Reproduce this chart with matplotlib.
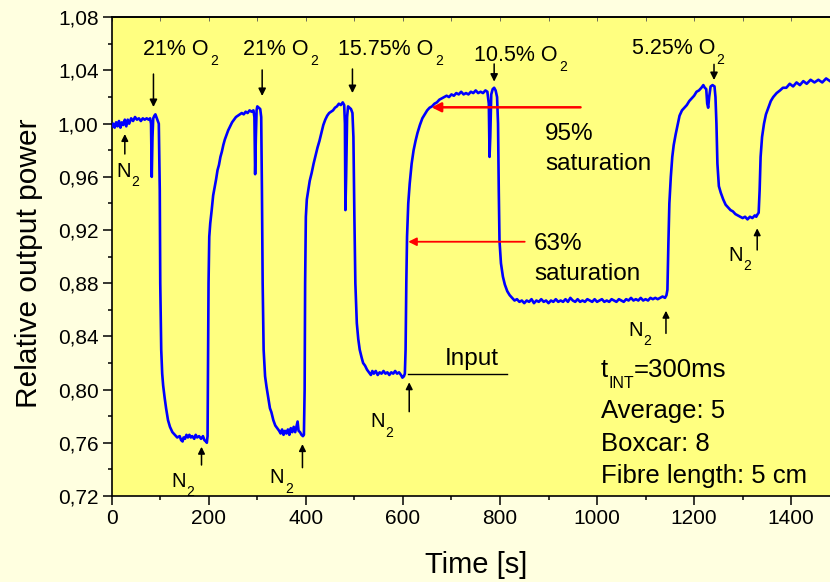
import matplotlib
matplotlib.use("Agg")
import matplotlib.pyplot as plt
from matplotlib.ticker import MultipleLocator, FuncFormatter

plt.rcParams['font.family'] = ['Liberation Sans', 'DejaVu Sans']

# ---------------- data ----------------
time_s = [0, 3, 6, 9, 12, 15, 18, 21, 24, 27, 30, 33, 36, 40, 44, 48, 52, 56, 60, 64, 68, 72, 76, 79,
          81, 82.5, 84, 85.5, 88, 90, 92, 95, 97, 99, 100, 102, 104, 106, 109, 112, 116, 120, 125, 130,
          135, 140, 143, 146, 148, 151, 154, 157, 160, 163, 166, 170, 173, 176, 180, 184, 188, 191, 194,
          196, 197.5, 198.5, 199.5, 201, 203, 206, 209, 212, 215, 218, 221, 224, 227, 230, 233, 236, 240,
          244, 248, 252, 256, 260, 264, 268, 272, 276, 280, 284, 288, 292, 294, 295.5, 297, 298.5, 300,
          303, 306, 308, 309.5, 311, 313, 316, 319, 322, 326, 329, 333, 337, 341, 345, 348, 351, 354,
          357, 360, 363, 366, 369, 372, 375, 378, 381, 383, 385, 388, 391, 394, 396, 397.5, 398.5, 400,
          402, 405, 408, 412, 416, 420, 424, 428, 432, 436, 440, 444, 448, 452, 456, 460, 464, 468, 472,
          476, 479, 480.5, 481.5, 483, 485, 487, 490, 493, 496, 498, 500, 502, 505, 508, 511, 515, 518,
          522, 526, 530, 534, 537, 540, 544, 548, 552, 556, 560, 564, 568, 572, 576, 580, 584, 588, 592,
          596, 599, 602, 604, 605.5, 607, 608.5, 611, 614, 618, 622, 626, 630, 635, 640, 645, 650, 655,
          660, 665, 670, 675, 680, 685, 690, 695, 700, 705, 710, 715, 720, 725, 730, 735, 740, 745, 750,
          755, 760, 765, 770, 774, 777, 778.5, 780, 782, 785, 788, 791, 794, 796, 797.5, 799, 802, 806,
          810, 815, 820, 825, 830, 835, 840, 845, 850, 855, 860, 865, 870, 875, 880, 885, 890, 895, 900,
          905, 910, 915, 920, 925, 930, 935, 940, 945, 950, 955, 960, 965, 970, 975, 980, 985, 990, 995,
          1000, 1005, 1010, 1015, 1020, 1025, 1030, 1035, 1040, 1045, 1050, 1055, 1060, 1065, 1070, 1075,
          1080, 1085, 1090, 1095, 1100, 1105, 1110, 1115, 1120, 1125, 1130, 1135, 1140, 1143, 1145, 1147,
          1149, 1152, 1155, 1158, 1162, 1166, 1170, 1175, 1180, 1185, 1190, 1195, 1200, 1205, 1210, 1215,
          1219, 1222, 1225, 1227, 1229, 1231, 1234, 1238, 1242, 1244, 1246, 1248, 1251, 1255, 1260, 1265,
          1270, 1275, 1280, 1285, 1290, 1295, 1300, 1305, 1310, 1315, 1320, 1325, 1328, 1331, 1333, 1335,
          1337, 1340, 1344, 1348, 1353, 1358, 1363, 1370, 1377, 1383, 1390, 1397, 1404, 1411, 1418, 1425,
          1432, 1440, 1448, 1456, 1464, 1472, 1480]
power = [0.998, 1.000, 0.997, 1.001, 0.998, 1.002, 0.997, 1.001, 0.999, 1.003, 0.998, 1.003, 1.000, 1.004,
         1.002, 1.005, 1.003, 1.004, 1.002, 1.004, 1.003, 1.004, 1.003, 1.004,
         1.000, 0.960, 0.990, 1.004, 1.006, 1.007, 1.005, 1.002, 1.000, 0.950, 0.880, 0.830, 0.812, 0.803,
         0.794, 0.786, 0.777, 0.772, 0.768, 0.766,
         0.764, 0.765, 0.762, 0.761, 0.764, 0.763, 0.766, 0.764, 0.766, 0.764, 0.765, 0.763, 0.766, 0.764,
         0.765, 0.763, 0.765, 0.762, 0.761,
         0.760, 0.765, 0.820, 0.880, 0.915, 0.925, 0.935, 0.946, 0.952, 0.958, 0.965, 0.969, 0.975, 0.979,
         0.984, 0.988, 0.991, 0.995,
         0.998, 1.001, 1.003, 1.005, 1.006, 1.007, 1.008, 1.007, 1.009, 1.008, 1.010, 1.009, 1.010, 1.005,
         0.962, 0.990, 1.010, 1.013,
         1.012, 1.011, 1.005, 0.950, 0.880, 0.830, 0.810, 0.802, 0.795, 0.786, 0.783, 0.777, 0.773, 0.771,
         0.769, 0.767, 0.770, 0.766,
         0.769, 0.767, 0.770, 0.766, 0.771, 0.768, 0.772, 0.768, 0.773, 0.776, 0.769, 0.768, 0.766, 0.765,
         0.766, 0.800, 0.880, 0.930,
         0.943, 0.950, 0.957, 0.963, 0.970, 0.976, 0.982, 0.987, 0.993, 0.999, 1.003, 1.006, 1.008, 1.009,
         1.010, 1.012, 1.013, 1.015, 1.014,
         1.016, 1.014, 1.000, 0.935, 0.960, 1.005, 1.013, 1.012, 1.011, 1.008, 0.990, 0.930, 0.880, 0.850,
         0.838, 0.830, 0.824, 0.820,
         0.818, 0.815, 0.813, 0.811, 0.814, 0.812, 0.814, 0.811, 0.813, 0.812, 0.814, 0.812, 0.813, 0.811,
         0.813, 0.812, 0.814, 0.812, 0.813,
         0.811, 0.809, 0.810, 0.812, 0.830, 0.880, 0.915, 0.940, 0.955, 0.970, 0.980, 0.987, 0.993, 0.999,
         1.004, 1.007, 1.010, 1.012,
         1.013, 1.015, 1.016, 1.018, 1.019, 1.020, 1.021, 1.020, 1.022, 1.021, 1.023, 1.022, 1.024, 1.022,
         1.023, 1.022, 1.024, 1.023, 1.025,
         1.023, 1.024, 1.023, 1.025, 1.024, 1.015, 0.975, 0.990, 1.022, 1.026, 1.027, 1.025, 1.020, 1.000,
         0.950, 0.912, 0.895, 0.885,
         0.879, 0.874, 0.871, 0.869, 0.867, 0.868, 0.866, 0.867, 0.865, 0.867, 0.866, 0.868, 0.865, 0.867,
         0.866, 0.868, 0.866, 0.867, 0.865,
         0.867, 0.866, 0.868, 0.866, 0.867, 0.866, 0.868, 0.866, 0.869, 0.867, 0.866, 0.868, 0.866, 0.867,
         0.866, 0.868, 0.867, 0.866, 0.868,
         0.866, 0.867, 0.868, 0.866, 0.867, 0.866, 0.868, 0.867, 0.866, 0.868, 0.867, 0.866, 0.868, 0.867,
         0.869, 0.867,
         0.868, 0.867, 0.869, 0.867, 0.868, 0.867, 0.869, 0.868, 0.869, 0.868, 0.869, 0.870, 0.869, 0.871,
         0.875, 0.910,
         0.940, 0.960, 0.975, 0.984, 0.992, 0.999, 1.006, 1.010, 1.012, 1.014, 1.017, 1.019, 1.021, 1.024,
         1.025, 1.027,
         1.029, 1.027, 1.026, 1.015, 1.012, 1.020, 1.028, 1.029, 1.028, 1.020, 1.000, 0.970, 0.953, 0.948,
         0.943, 0.939,
         0.937, 0.935, 0.934, 0.932, 0.931, 0.930, 0.929, 0.930, 0.928, 0.930, 0.929, 0.931, 0.930, 0.932,
         0.933, 0.950,
         0.975, 0.990, 1.000, 1.007, 1.012, 1.017, 1.020, 1.023, 1.025, 1.027, 1.027, 1.030, 1.028, 1.031,
         1.029, 1.032,
         1.030, 1.033, 1.031, 1.033, 1.031, 1.034, 1.032]

o2_labels = ['21% O', '21% O', '15.75% O', '10.5% O', '5.25% O']
o2_label_pos = [(64, 1.0516), (270, 1.0516), (467, 1.0516), (746, 1.0471), (1071, 1.0522)]
o2_arrow_t = [86, 310, 496, 788, 1241]
o2_arrow_v = [(1.0373, 1.0125), (1.0404, 1.0208), (1.0411, 1.0230), (1.0449, 1.0316), (1.0446, 1.0328)]

n2_label_pos = [(9, 0.9601), (122, 0.7270), (325, 0.7296), (532, 0.7717), (1064, 0.8403), (1270, 0.8967)]
n2_arrow_t = [27, 185, 393, 613, 1142, 1330]
n2_arrow_v = [(0.9772, 0.9922), (0.7433, 0.7570), (0.7413, 0.7590), (0.7834, 0.8055),
              (0.8423, 0.8593), (0.9050, 0.9213)]

info_lines = ['Average: 5', 'Boxcar: 8', 'Fibre length: 5 cm']
info_baselines = [0.7784, 0.7540, 0.7296]
tint_baseline = 0.8093

# ---------------- figure ----------------
fig = plt.figure(figsize=(8.30, 5.82), dpi=100, facecolor='#FFFFE0')
ax = fig.add_axes([0.1346, 0.1478, 0.8771, 0.8225])
ax.set_facecolor('#FFFF80')

ax.plot(time_s, power, color='#0000FF', lw=1.9, zorder=3)

ax.set_xlim(0, 1500)
ax.set_ylim(0.72, 1.08)
ax.xaxis.set_major_locator(MultipleLocator(200))
ax.xaxis.set_minor_locator(MultipleLocator(100))
ax.yaxis.set_major_locator(MultipleLocator(0.04))
ax.yaxis.set_minor_locator(MultipleLocator(0.02))
ax.yaxis.set_major_formatter(FuncFormatter(lambda v, p: f"{v:.2f}".replace('.', ',')))
ax.tick_params(which='major', direction='out', length=6.5, width=1.1, labelsize=15, pad=3)
ax.tick_params(which='minor', direction='out', length=3, width=1.1)
for s in ['left', 'bottom', 'top']:
    ax.spines[s].set_linewidth(1.2)
ax.spines['right'].set_visible(False)

top = ax.secondary_xaxis('top')
top.xaxis.set_major_locator(MultipleLocator(100))
top.tick_params(which='major', direction='in', length=3, width=0.6, labeltop=False, color='#555555')
top.spines['top'].set_linewidth(1.2)

ax.set_xlabel('Time [s]', fontsize=21)
ax.xaxis.label.set_verticalalignment('baseline')
ax.xaxis.set_label_coords(0.5, -0.1615)
ax.set_ylabel('Relative output power', fontsize=21.5)
ax.yaxis.set_label_coords(-0.095, 0.4867)


def sub_text(x, y, main, sub, size, sub_size, dx=0.6, dy=1.1):
    """Main text with its baseline at (x, y) and a dropped subscript after it."""
    t = ax.text(x, y, main, fontsize=size, ha='left', va='baseline')
    ax.annotate(sub, xy=(1, y), xycoords=(t, 'data'), xytext=(dx, dy),
                textcoords='offset points', fontsize=sub_size, ha='left', va='top')
    return t


def arrow(t, v0, v1, color='k', lw=1.1, ms=10):
    ax.annotate('', xy=(t, v1), xytext=(t, v0),
                arrowprops=dict(arrowstyle='-|>', color=color, lw=lw, mutation_scale=ms,
                                shrinkA=0, shrinkB=0))


# O2 annotations
for lab, (tx, ty), at, (v0, v1) in zip(o2_labels, o2_label_pos, o2_arrow_t, o2_arrow_v):
    sub_text(tx, ty, lab, '2', 15.5, 10, dx=1.2)
    arrow(at, v0, v1, ms=11)

# N2 annotations
for (tx, ty), at, (v0, v1) in zip(n2_label_pos, n2_arrow_t, n2_arrow_v):
    sub_text(tx, ty, 'N', '2', 14.5, 10, dx=0.6)
    arrow(at, v0, v1, ms=10)

# red saturation arrows
ax.annotate('', xy=(659, 1.0123), xytext=(966, 1.0123),
            arrowprops=dict(arrowstyle='-|>', color='#FF0000', lw=1.8, mutation_scale=14,
                            shrinkA=0, shrinkB=0), zorder=4)
ax.annotate('', xy=(611, 0.9112), xytext=(851, 0.9112),
            arrowprops=dict(arrowstyle='-|>', color='#FF0000', lw=1.3, mutation_scale=12,
                            shrinkA=0, shrinkB=0), zorder=4)
ax.text(893, 0.9877, '95%', fontsize=17.5, ha='left', va='baseline')
ax.text(893, 0.9651, 'saturation', fontsize=17.5, ha='left', va='baseline')
ax.text(870, 0.9050, '63%', fontsize=17.5, ha='left', va='baseline')
ax.text(870, 0.8825, 'saturation', fontsize=17.5, ha='left', va='baseline')

# Input line
ax.plot([611, 814], [0.8118, 0.8118], color='k', lw=1.0, zorder=2)
ax.text(687, 0.8185, 'Input', fontsize=17.5, ha='left', va='baseline')

# info block
t_main = ax.text(1008, tint_baseline, 't', fontsize=18.5, ha='left', va='baseline')
t_sub = ax.annotate('INT', xy=(1, tint_baseline), xycoords=(t_main, 'data'), xytext=(0, 1.0),
                    textcoords='offset points', fontsize=11.5, ha='left', va='top')
ax.annotate('=300ms', xy=(1, tint_baseline), xycoords=(t_sub, 'data'), xytext=(0, 0),
            textcoords='offset points', fontsize=18.5, ha='left', va='baseline')
for line, b in zip(info_lines, info_baselines):
    ax.text(1008, b, line, fontsize=18.5, ha='left', va='baseline')

fig.savefig('out.png', dpi=100, facecolor=fig.get_facecolor())
